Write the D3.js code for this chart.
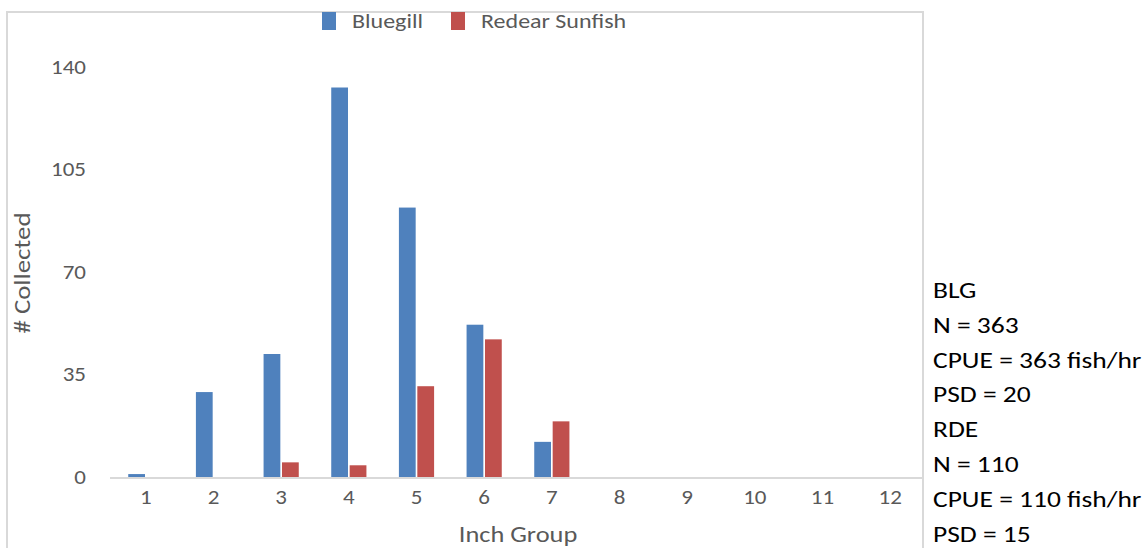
<!DOCTYPE html>
<html lang="en">
  <head>
    <meta charset="utf-8">
    <title>Bluegill and Redear Sunfish by inch group</title>
    <script src="https://d3js.org/d3.v7.min.js"></script>
    <style>
      body { margin: 0; background: #fff; }
      svg text { font-family: Carlito, Calibri, Lato, sans-serif; }
    </style>
  </head>
  <body>
    <svg></svg>
    <script>
    // data
    const inchGroups = ['1', '2', '3', '4', '5', '6', '7', '8', '9', '10', '11', '12']
    const bluegill = [1, 29, 42, 133, 92, 52, 12, 0, 0, 0, 0, 0]
    const redear = [0, 0, 5, 4, 31, 47, 19, 0, 0, 0, 0, 0]
    const seriesNames = ['Bluegill', 'Redear Sunfish']
    const yTicks = [0, 35, 70, 105, 140]
    const sideNotes = ['BLG', 'N = 363', 'CPUE = 363 fish/hr', 'PSD = 20',
                       'RDE', 'N = 110', 'CPUE = 110 fish/hr', 'PSD = 15']

    const colors = ['#4f81bd', '#c0504d']
    const grey = '#595959'
    // the original text is a bit wide, stretch it sideways
    const stretch = 'scale(1.2,1)'

    const svg = d3.select('svg')
      .attr('width', 1142)
      .attr('height', 548)

    // chart area frame
    svg.append('path')
      .attr('d', 'M7,548 V12 H923 V548')
      .attr('fill', 'none')
      .attr('stroke', '#d9d9d9')
      .attr('stroke-width', 2)

    const x = d3.scaleBand()
      .domain(inchGroups)
      .range([112, 924])
      .paddingInner(0.48)
      .paddingOuter(0.24)

    const xs = d3.scaleBand()
      .domain(seriesNames)
      .range([0, x.bandwidth()])
      .paddingInner(0.09)

    const y = d3.scaleLinear()
      .domain([0, 140])
      .range([477, 67])

    // bars
    const rows = inchGroups.map((g, i) => ({ g, vals: [bluegill[i], redear[i]] }))
    const groups = svg.append('g').selectAll('g')
      .data(rows)
      .join('g')
        .attr('transform', d => `translate(${x(d.g)},0)`)

    groups.selectAll('rect')
      .data(d => d.vals.map((v, k) => ({ v, k })))
      .join('rect')
        .attr('x', d => xs(seriesNames[d.k]))
        .attr('width', xs.bandwidth())
        .attr('y', d => y(d.v))
        .attr('height', d => y(0) - y(d.v))
        .attr('fill', d => colors[d.k])

    // x axis
    const xAxis = svg.append('g')
      .attr('transform', `translate(0,${y(0) + 1})`)
      .call(d3.axisBottom(x).tickSize(0).tickPadding(12))
    xAxis.select('.domain').attr('stroke', '#d9d9d9').attr('stroke-width', 2)
      .attr('d', 'M110,0 H923')
    xAxis.selectAll('text').attr('fill', grey).attr('font-size', 20)
      .attr('transform', 'scale(1.15,1)')

    // y axis labels only
    const yAxis = svg.append('g')
      .attr('transform', 'translate(86,0)')
      .call(d3.axisLeft(y).tickValues(yTicks).tickSize(0).tickPadding(0))
    yAxis.select('.domain').remove()
    yAxis.selectAll('text').attr('fill', grey).attr('font-size', 20)
      .attr('transform', 'scale(1.15,1)')

    // axis titles
    svg.append('text')
      .attr('transform', `translate(518,542) ${stretch}`)
      .attr('text-anchor', 'middle')
      .attr('fill', grey)
      .attr('font-size', 22)
      .text('Inch Group')

    svg.append('text')
      .attr('transform', 'translate(30,273) rotate(-90) scale(1.22,1)')
      .attr('text-anchor', 'middle')
      .attr('fill', grey)
      .attr('font-size', 22)
      .text('# Collected')

    // legend
    const legendX = [322, 451]
    const legend = svg.append('g').selectAll('g')
      .data(seriesNames)
      .join('g')
        .attr('transform', (d, i) => `translate(${legendX[i]},12)`)
    legend.append('rect')
      .attr('width', 14)
      .attr('height', 18)
      .attr('fill', (d, i) => colors[i])
    legend.append('text')
      .attr('transform', `translate(30,16) ${stretch}`)
      .attr('fill', grey)
      .attr('font-size', 20)
      .text(d => d)

    // notes on the right
    svg.append('g').selectAll('text')
      .data(sideNotes)
      .join('text')
        .attr('transform', (d, i) => `translate(933,${298 + i * 34.8}) scale(1.25,1)`)
        .attr('fill', '#000')
        .attr('font-size', 22)
        .text(d => d)
    </script>
  </body>
</html>
